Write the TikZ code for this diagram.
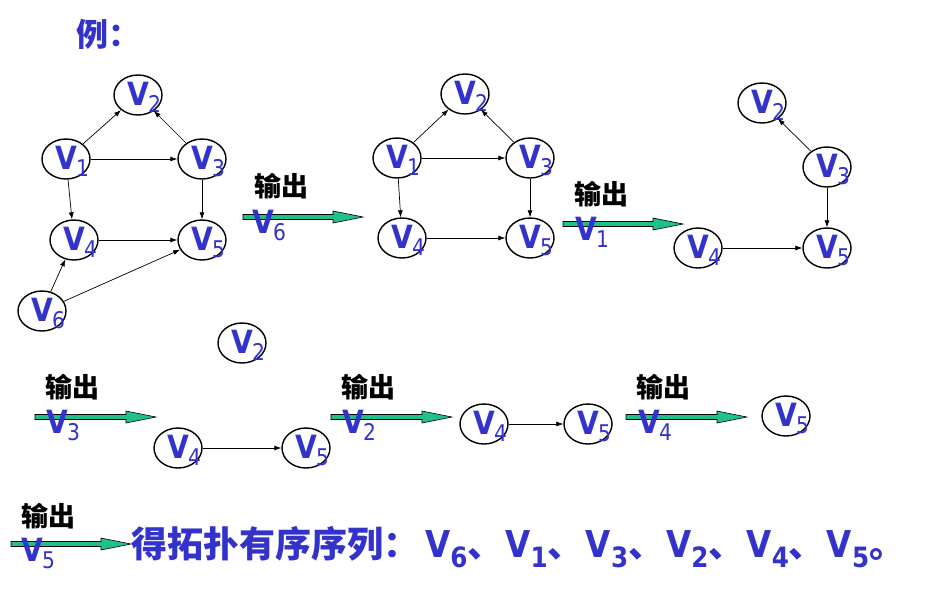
\documentclass[tikz,border=0pt]{standalone}
\usepackage{fontspec}
\usetikzlibrary{arrows.meta,positioning,calc,shapes.geometric}
\newfontfamily\cjk{Noto Sans CJK SC}
\newfontfamily\vfont{DejaVu Sans}[FakeStretch=0.88]
\definecolor{vblue}{RGB}{51,51,204}
\definecolor{outgreen}{RGB}{32,192,140}
% vertex label: V centred on the node, index hanging lower right
\newcommand\vn[1]{\makebox[0pt][c]{\raisebox{-10pt}[0pt][0pt]{\vfont\bfseries\fontsize{32}{32}\selectfont V}}%
  \makebox[0pt][l]{\raisebox{-17pt}[0pt][0pt]{\hspace{10pt}\vfont\fontsize{23}{23}\selectfont #1}}}
\newcommand\vs[1]{{\vfont\bfseries\fontsize{37}{37}\selectfont V}\raisebox{-10pt}{\vfont\fontsize{28}{28}\selectfont #1}}
\newcommand\outarrow[2]{\filldraw[outarrow] ($(#1)+(0,2.5)$) -- ($(#2)+(-30,2.5)$) -- ($(#2)+(-30,6)$) -- (#2)
  -- ($(#2)+(-30,-6)$) -- ($(#2)+(-30,-2.5)$) -- ($(#1)+(0,-2.5)$) -- cycle;}
\tikzset{
    vtx/.style={ellipse,draw,line width=1.4pt,minimum width=48pt,minimum height=40pt,inner sep=0pt,text=vblue},
    edge/.style={-{Latex[length=7pt,width=5pt]},line width=0.7pt},
    outarrow/.style={fill=outgreen,draw=black,line width=0.6pt},
    outlbl/.style={font=\cjk\bfseries\fontsize{27}{27}\selectfont,inner sep=0pt},
    seqlbl/.style={inner sep=0pt,text=vblue}
}
\begin{document}
\begin{tikzpicture}[x=1pt,y=-1pt]
    \useasboundingbox (0,0) rectangle (929,590);
    \node[anchor=west,inner sep=0pt,text=vblue,font=\cjk\bfseries\fontsize{32}{32}\selectfont] (ex) at (76,34) {例：};

    % original graph
    \node[vtx] (a2) at (138,95) {\vn{2}};
    \node[vtx] (a1) at (66,159) {\vn{1}};
    \node[vtx] (a3) at (202,159) {\vn{3}};
    \node[vtx] (a4) at (74,240) {\vn{4}};
    \node[vtx] (a5) at (202,240) {\vn{5}};
    \node[vtx] (a6) at (42,311) {\vn{6}};
    \draw[edge] (a1)--(a2);
    \draw[edge] (a1)--(a3);
    \draw[edge] (a3)--(a2);
    \draw[edge] (a1)--(a4);
    \draw[edge] (a3)--(a5);
    \draw[edge] (a4)--(a5);
    \draw[edge] (a6)--(a4);
    \draw[edge] (a6)--(a5);

    % output V6
    \coordinate (p1) at (243,217);
    \coordinate (q1) at (363,217);
    \outarrow{p1}{q1}
    \node[outlbl] (o1) at (281,186) {输出};
    \node[seqlbl] (s1) at (263,223) {\vn{6}};

    \node[vtx] (b2) at (465,94) {\vn{2}};
    \node[vtx] (b1) at (397,158) {\vn{1}};
    \node[vtx] (b3) at (530,158) {\vn{3}};
    \node[vtx] (b4) at (402,238) {\vn{4}};
    \node[vtx] (b5) at (530,238) {\vn{5}};
    \draw[edge] (b1)--(b2);
    \draw[edge] (b1)--(b3);
    \draw[edge] (b3)--(b2);
    \draw[edge] (b1)--(b4);
    \draw[edge] (b3)--(b5);
    \draw[edge] (b4)--(b5);

    % output V1
    \coordinate (p2) at (563,224);
    \coordinate (q2) at (683,224);
    \outarrow{p2}{q2}
    \node[outlbl] (o2) at (601,194) {输出};
    \node[seqlbl] (s2) at (586,230) {\vn{1}};

    \node[vtx] (c2) at (762,103) {\vn{2}};
    \node[vtx] (c3) at (827,167) {\vn{3}};
    \node[vtx] (c4) at (698,248) {\vn{4}};
    \node[vtx] (c5) at (827,248) {\vn{5}};
    \draw[edge] (c3)--(c2);
    \draw[edge] (c3)--(c5);
    \draw[edge] (c4)--(c5);

    % output V3
    \node[vtx] (d2) at (242,343) {\vn{2}};
    \coordinate (p3) at (35,417);
    \coordinate (q3) at (156,417);
    \outarrow{p3}{q3}
    \node[outlbl] (o3) at (72,387) {输出};
    \node[seqlbl] (s3) at (57,423) {\vn{3}};

    \node[vtx] (d4) at (178,448) {\vn{4}};
    \node[vtx] (d5) at (306,448) {\vn{5}};
    \draw[edge] (d4)--(d5);

    % output V2
    \coordinate (p4) at (331,417);
    \coordinate (q4) at (452,417);
    \outarrow{p4}{q4}
    \node[outlbl] (o4) at (368,387) {输出};
    \node[seqlbl] (s4) at (353,423) {\vn{2}};

    \node[vtx] (e4) at (484,424) {\vn{4}};
    \node[vtx] (e5) at (588,424) {\vn{5}};
    \draw[edge] (e4)--(e5);

    % output V4
    \coordinate (p5) at (626,417);
    \coordinate (q5) at (747,417);
    \outarrow{p5}{q5}
    \node[outlbl] (o5) at (663,387) {输出};
    \node[seqlbl] (s5) at (649,423) {\vn{4}};

    \node[vtx] (f5) at (786,416) {\vn{5}};

    % output V5
    \coordinate (p6) at (11,544);
    \coordinate (q6) at (131,544);
    \outarrow{p6}{q6}
    \node[outlbl] (o6) at (48,516) {输出};
    \node[seqlbl] (s6) at (32,551) {\vn{5}};

    \node[anchor=base west,inner sep=0pt,text=vblue] (res) at (131,557)
        {\cjk\bfseries\fontsize{36}{36}\selectfont 得拓扑有序序列：\hspace{6pt}\vs{6}、\hspace{2pt}\vs{1}、\hspace{2pt}\vs{3}、\hspace{2pt}\vs{2}、\hspace{2pt}\vs{4}、\hspace{2pt}\vs{5}。};
\end{tikzpicture}
\end{document}
